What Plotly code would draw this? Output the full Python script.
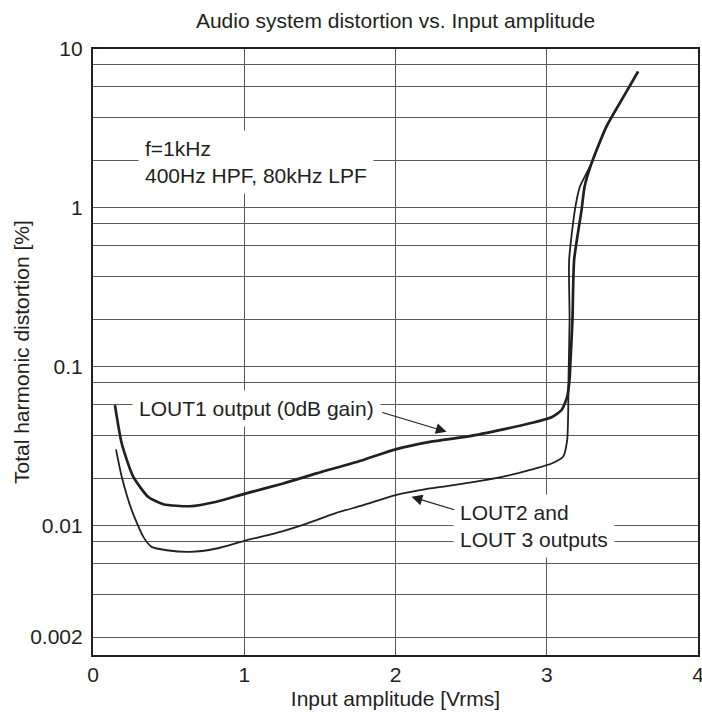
import numpy as np
import plotly.graph_objects as go

# ---- data ----
lout1_x = [0.145, 0.19, 0.266, 0.366, 0.465, 0.641, 0.817, 1.0, 1.258, 1.478, 1.787, 2.0,
           2.227, 2.49, 2.712, 2.89, 3.032, 3.098, 3.135, 3.152, 3.157, 3.170, 3.181,
           3.230, 3.25, 3.296, 3.395, 3.483, 3.604]
lout1_y = [0.0575, 0.033, 0.0204, 0.0152, 0.0137, 0.0133, 0.0142, 0.0159, 0.0185, 0.0214,
           0.026, 0.0303, 0.0338, 0.0367, 0.0405, 0.0442, 0.0482, 0.0536, 0.0649, 0.0867,
           0.110, 0.197, 0.471, 0.97, 1.36, 1.91, 3.26, 4.57, 7.22]

lout2_x = [0.152, 0.19, 0.256, 0.333, 0.388, 0.487, 0.641, 0.817, 1.0, 1.214, 1.413, 1.6,
           1.787, 2.0, 2.227, 2.49, 2.712, 2.89, 3.032, 3.108, 3.135, 3.142, 3.144, 3.151,
           3.148, 3.186, 3.219, 3.296, 3.385, 3.50]
lout2_y = [0.0303, 0.0204, 0.01256, 0.00853, 0.00738, 0.00703, 0.00686, 0.00721, 0.00806,
           0.00904, 0.01035, 0.012, 0.0135, 0.0156, 0.0172, 0.0187, 0.0204, 0.0225, 0.0247,
           0.0272, 0.0347, 0.0536, 0.0866, 0.197, 0.471, 0.97, 1.36, 1.91, 3.1, 4.9]

x_ticks = [0, 1, 2, 3, 4]
x_ticktext = ["0", "1", "2", "3", "4"]
y_gridvals = [0.002, 0.0037, 0.0058, 0.008, 0.01, 0.02, 0.037, 0.058, 0.08, 0.1,
              0.2, 0.37, 0.58, 0.8, 1, 2, 3.7, 5.8, 8, 10]
y_labeled = {0.002: "0.002", 0.01: "0.01", 0.1: "0.1", 1: "1", 10: "10"}
y_ticktext = [y_labeled.get(v, "") for v in y_gridvals]

title_text = "Audio system distortion vs. Input amplitude"
x_title = "Input amplitude [Vrms]"
y_title = "Total harmonic distortion [%]"
note_text = "f=1kHz<br>400Hz HPF, 80kHz LPF"
lout1_label = "LOUT1 output (0dB gain)"
lout2_label = "LOUT2 and<br>LOUT 3 outputs"

INK = "#231f20"
FONT = "Liberation Sans, Arial, sans-serif"
FS = 21

fig = go.Figure()
fig.add_trace(go.Scatter(x=lout1_x, y=lout1_y, mode="lines",
                         line=dict(color=INK, width=2.7, shape="spline", smoothing=0.6),
                         showlegend=False, hoverinfo="skip"))
fig.add_trace(go.Scatter(x=lout2_x, y=lout2_y, mode="lines",
                         line=dict(color=INK, width=1.8, shape="spline", smoothing=0.6),
                         showlegend=False, hoverinfo="skip"))

L = np.log10
box = dict(bgcolor="white", borderpad=6, font=dict(family=FONT, size=FS, color=INK),
           align="left", xanchor="left", yanchor="middle", showarrow=False,
           xref="x", yref="y")
fig.add_annotation(text=note_text, x=0.297, y=L(1.94), **box)
fig.add_annotation(text=lout1_label, x=0.256, y=L(0.0551), **box)
fig.add_annotation(text=lout2_label, x=2.379, y=L(0.01), **box)

arrow = dict(text="", showarrow=True, arrowhead=2, arrowsize=1.8, arrowwidth=1.2,
             arrowcolor=INK, xref="x", yref="y", axref="x", ayref="y")
fig.add_annotation(x=2.338, y=L(0.0391), ax=1.903, ay=L(0.052), **arrow)
fig.add_annotation(x=2.106, y=L(0.01523), ax=2.399, ay=L(0.01256), **arrow)

# y-axis title placed as rotated text left of the tick labels
fig.add_annotation(text=y_title, textangle=-90, xref="paper", yref="paper",
                   x=(21 - 93) / 605, y=0.5, xanchor="center", yanchor="middle",
                   showarrow=False, font=dict(family=FONT, size=FS, color=INK))

fig.update_layout(
    width=702, height=716,
    margin=dict(l=93, r=4, t=49, b=61),
    paper_bgcolor="white", plot_bgcolor="white",
    font=dict(family=FONT, size=FS, color=INK),
    title=dict(text=title_text, x=0.5, xref="paper", xanchor="center",
               y=1 - 20.5 / 716, yref="container", yanchor="middle",
               font=dict(family=FONT, size=FS, color=INK)),
)
fig.update_xaxes(range=[0, 4], tickvals=x_ticks, ticktext=x_ticktext, automargin=False,
                 showgrid=True, gridcolor="#5a5a5a", gridwidth=1, zeroline=False,
                 showline=True, mirror=True, linecolor=INK, linewidth=2.2,
                 ticks="", ticklabelstandoff=0, ticklabeloverflow="allow",
                 title=dict(text=x_title, standoff=6, font=dict(size=FS)))
fig.update_yaxes(type="log", range=[-2.812, 1.0], tickvals=y_gridvals, ticktext=y_ticktext,
                 automargin=False,
                 showgrid=True, gridcolor="#5a5a5a", gridwidth=1, zeroline=False,
                 showline=True, mirror=True, linecolor=INK, linewidth=2.2,
                 ticks="", ticklabelstandoff=4)

fig.write_html("out.html", config={"displayModeBar": False},
               post_script="document.body.style.margin='0';"
                           "document.body.style.overflow='hidden';")
